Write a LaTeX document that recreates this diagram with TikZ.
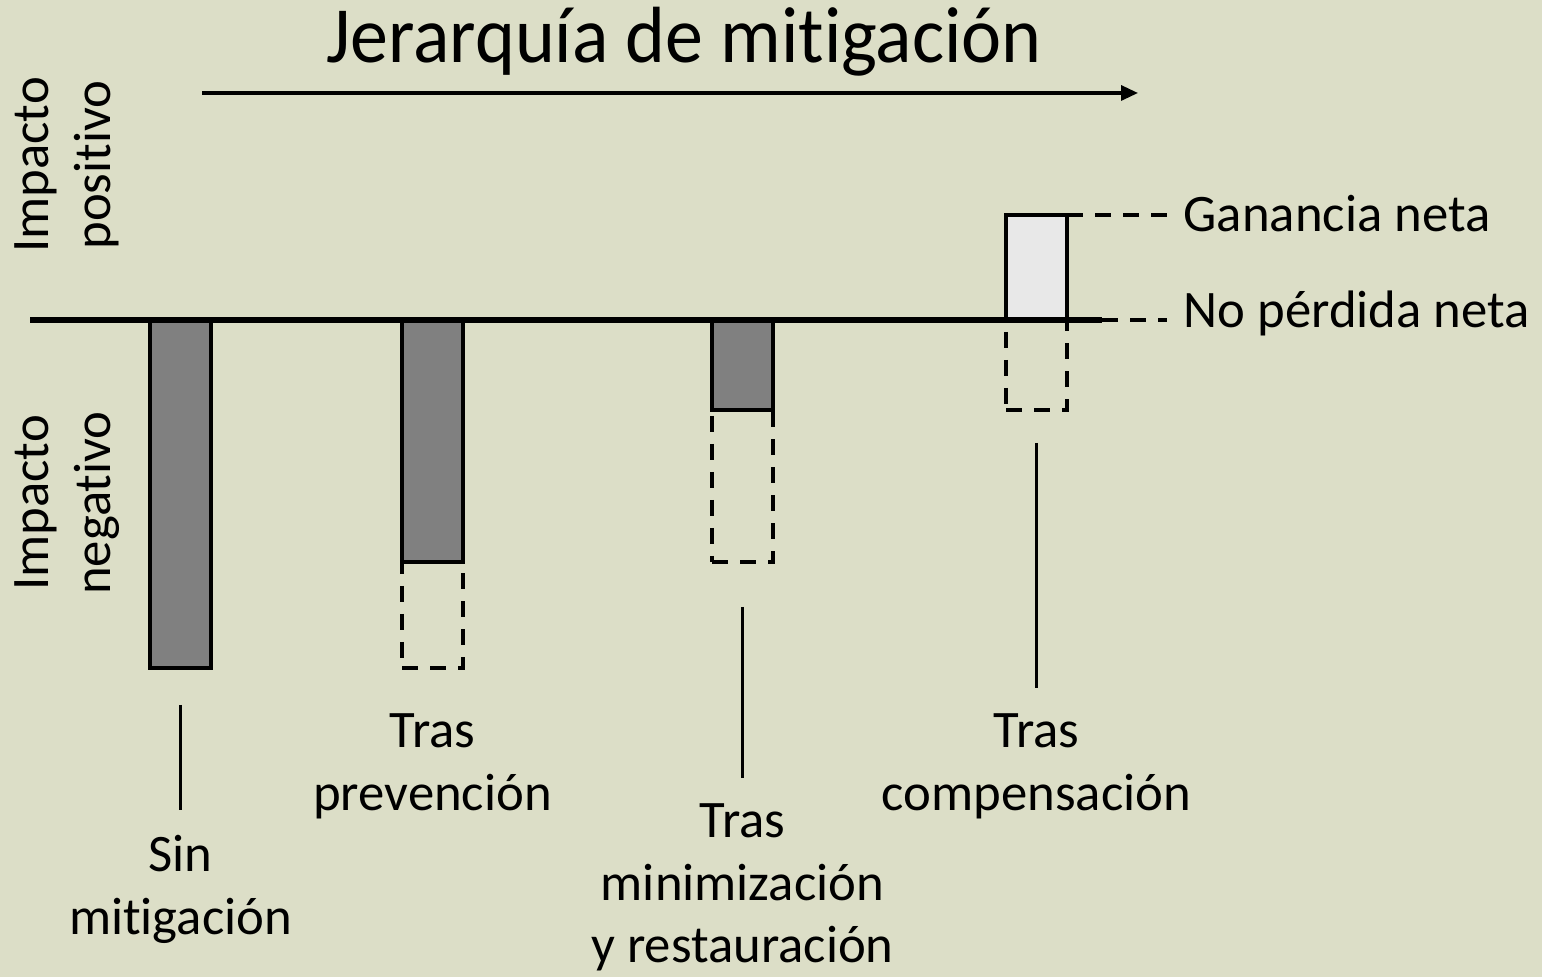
\documentclass[tikz,border=0pt]{standalone}
\usepackage{fontspec}
\setmainfont{Carlito}[Ligatures=NoCommon]
\usetikzlibrary{positioning,arrows.meta,calc}
\definecolor{bg}{RGB}{220,222,199}
\definecolor{barfill}{RGB}{128,128,128}
\definecolor{gainfill}{RGB}{232,232,232}

\begin{document}
\begin{tikzpicture}[
    bar/.style={draw,line width=1pt,fill=barfill,minimum width=0.61cm,inner sep=0pt,outer sep=0pt,anchor=north},
    ghost/.style={bar,fill=none,dash pattern=on 0.16cm off 0.12cm},
    label/.style={font=\fontsize{15}{17.8}\selectfont,align=center,inner sep=0pt},
    lead/.style={line width=0.6pt},
    guide/.style={line width=0.9pt,dash pattern=on 0.16cm off 0.12cm,shorten >=0.16cm},
    axis/.style={line width=1.7pt}
    ]
    \fill[bg] (0,0) rectangle (15.42,-9.77);
    \useasboundingbox (0,0) rectangle (15.42,-9.77);

    \node[font=\fontsize{21.6}{26}\selectfont,yscale=1.05] (title) at (6.84,-0.42) {Jerarquía de mitigación};
    \coordinate (hstart) at (2.02,-0.93);
    \coordinate (hend) at (11.38,-0.93);
    \draw[line width=0.9pt,-{Triangle[length=0.17cm,width=0.15cm]}] (hstart) -- (hend);

    \node[label,rotate=90] (pos) at (0.67,-1.65) {Impacto\\positivo};
    \node[label,rotate=90] (neg) at (0.67,-5.03) {Impacto\\negativo};

    % barras
    \node[bar,minimum height=3.48cm] (sin) at (1.805,-3.20) {};
    \node[bar,minimum height=2.42cm] (prev) at (4.325,-3.20) {};
    \node[ghost,minimum height=1.06cm,below=0pt of prev] (prevrest) {};
    \node[bar,minimum height=0.90cm] (mini) at (7.425,-3.20) {};
    \node[ghost,minimum height=1.52cm,below=0pt of mini] (minirest) {};
    \node[ghost,minimum height=0.90cm] (comprest) at (10.365,-3.20) {};
    \node[bar,fill=gainfill,minimum height=1.05cm,above=0pt of comprest] (comp) {};

    \coordinate (axl) at (0.30,-3.20);
    \coordinate (axr) at (11.02,-3.20);
    \draw[axis] (axl) -- (axr);

    \node[label,anchor=base west] (gain) at (11.83,-2.32) {Ganancia neta};
    \node[label,anchor=base west] (nonet) at (11.83,-3.28) {No pérdida neta};
    \draw[guide] (comp.north east) -- (comp.north east -| gain.west);
    \draw[guide] (axr) -- (axr -| nonet.west);

    \node[label,anchor=north] (sinlbl) at (1.805,-8.35) {Sin\\mitigación};
    \node[label,anchor=north] (prevlbl) at (4.325,-7.13) {Tras\\prevención};
    \node[label,anchor=north] (minilbl) at (7.425,-8.03) {Tras\\minimización\\y restauración};
    \node[label,anchor=north] (complbl) at (10.365,-7.13) {Tras\\compensación};

    \draw[lead,shorten <=0.37cm,shorten >=0.25cm] (sin) -- (sinlbl);
    \draw[lead,shorten <=0.45cm,shorten >=0.25cm] (minirest) -- (minilbl);
    \draw[lead,shorten <=0.33cm,shorten >=0.25cm] (comprest) -- (complbl);
\end{tikzpicture}
\end{document}
